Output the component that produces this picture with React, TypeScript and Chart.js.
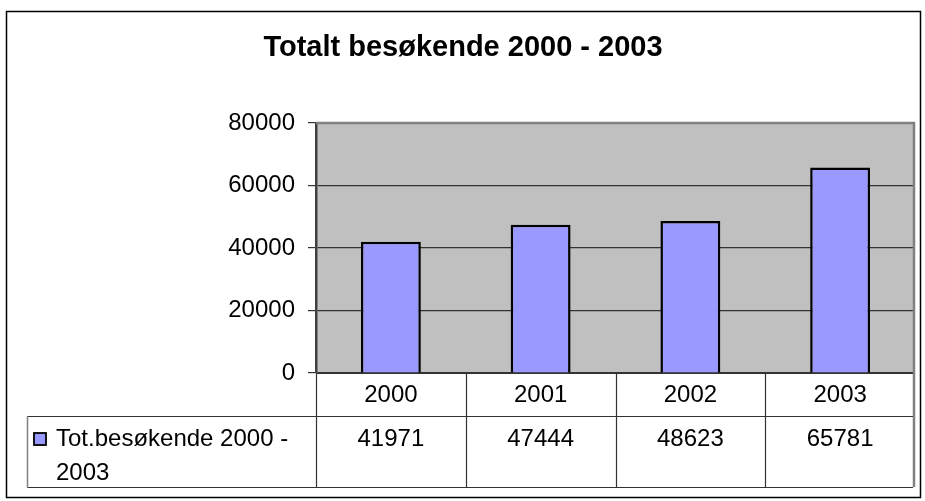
import React, { useEffect, useRef } from "react";
import { Chart, registerables } from "chart.js";

Chart.register(...registerables);

const TITLE = "Totalt besøkende 2000 - 2003";
const categories = ["2000", "2001", "2002", "2003"];
const seriesName = ["Tot.besøkende 2000 -", "2003"];
const values = [41971, 47444, 48623, 65781];
const yTicks = [0, 20000, 40000, 60000, 80000];

const FONT = "'Liberation Sans', Arial, sans-serif";
const BAR_COLOR = "#9999FF";
const PLOT_BG = "#C0C0C0";
const PLOT_BORDER = "#808080";
const LINE = "#333333";

const tablePlugin = {
  id: "excelTable",
  beforeDraw(chart: any) {
    const { ctx, chartArea } = chart;
    ctx.save();
    ctx.fillStyle = "#ffffff";
    ctx.fillRect(0, 0, chart.width, chart.height);
    ctx.fillStyle = PLOT_BG;
    ctx.fillRect(chartArea.left, chartArea.top, chartArea.right - chartArea.left, chartArea.bottom - chartArea.top);
    ctx.restore();
  },
  afterDraw(chart: any) {
    const { ctx, chartArea } = chart;
    const x = chart.scales.x;
    const left = chartArea.left;
    const right = chartArea.right;
    const top = chartArea.top;
    const bottom = chartArea.bottom;
    const catW = (right - left) / categories.length;
    const row1Bottom = bottom + 43;
    const row2Bottom = bottom + 114;
    const legendLeft = 27.5;

    ctx.save();
    // plot border top & right
    ctx.strokeStyle = PLOT_BORDER;
    ctx.lineWidth = 2.5;
    ctx.beginPath();
    ctx.moveTo(left, top);
    ctx.lineTo(right - 1, top);
    ctx.lineTo(right - 1, row2Bottom);
    ctx.stroke();

    // table lines
    ctx.strokeStyle = LINE;
    ctx.lineWidth = 1.2;
    ctx.beginPath();
    ctx.moveTo(left, bottom + 0.5);
    ctx.lineTo(right - 2, bottom + 0.5);
    ctx.moveTo(legendLeft, row1Bottom + 0.5);
    ctx.lineTo(right - 2, row1Bottom + 0.5);
    ctx.moveTo(legendLeft, row2Bottom + 0.5);
    ctx.lineTo(right - 2, row2Bottom + 0.5);
    for (let i = 0; i < categories.length; i++) {
      const bx = Math.round(x.getPixelForValue(i) - catW / 2) + 0.5;
      ctx.moveTo(bx, bottom);
      ctx.lineTo(bx, row2Bottom + 1);
    }
    ctx.stroke();
    ctx.strokeStyle = PLOT_BORDER;
    ctx.lineWidth = 1.5;
    ctx.beginPath();
    ctx.moveTo(legendLeft, row1Bottom);
    ctx.lineTo(legendLeft, row2Bottom + 1);
    ctx.stroke();

    // texts
    ctx.fillStyle = "#000000";
    ctx.font = `24px ${FONT}`;
    ctx.textAlign = "center";
    ctx.textBaseline = "alphabetic";
    categories.forEach((c, i) => {
      ctx.fillText(c, x.getPixelForValue(i), bottom + 29);
    });
    values.forEach((v, i) => {
      ctx.fillText(String(v), x.getPixelForValue(i), bottom + 72.5);
    });
    ctx.textAlign = "left";
    ctx.fillText(seriesName[0], 56, bottom + 72.5);
    ctx.fillText(seriesName[1], 56, bottom + 106.5);

    // legend marker
    ctx.fillStyle = BAR_COLOR;
    ctx.fillRect(34, bottom + 60, 12, 12);
    ctx.strokeStyle = "#000000";
    ctx.lineWidth = 1.8;
    ctx.strokeRect(34, bottom + 60, 12, 12);

    // title
    ctx.font = `bold 29px ${FONT}`;
    ctx.textAlign = "center";
    ctx.fillStyle = "#000000";
    ctx.fillText(TITLE, 463, 56);

    // outer border
    ctx.strokeStyle = "#000000";
    ctx.lineWidth = 1.5;
    ctx.strokeRect(6.5, 11.5, 914, 486);
    ctx.restore();
  },
};

export default function App() {
  const ref = useRef<HTMLCanvasElement | null>(null);

  useEffect(() => {
    if (!ref.current) return;
    const chart = new Chart(ref.current, {
      type: "bar",
      data: {
        labels: categories,
        datasets: [
          {
            label: seriesName.join(" "),
            data: values,
            backgroundColor: BAR_COLOR,
            borderColor: "#000000",
            borderWidth: 2.5,
            categoryPercentage: 1,
            barPercentage: 0.4,
          },
        ],
      },
      options: {
        animation: false,
        responsive: false,
        layout: { padding: { top: 123, bottom: 128, left: 0, right: 10 } },
        plugins: {
          legend: { display: false },
          title: { display: false },
          tooltip: { enabled: false },
        },
        scales: {
          x: { display: false },
          y: {
            min: 0,
            max: 80000,
            afterFit: (scale: any) => {
              scale.width = 316;
            },
            afterBuildTicks: (scale: any) => {
              scale.ticks = yTicks.map((v) => ({ value: v }));
            },
            ticks: {
              stepSize: 20000,
              padding: 13,
              color: "#000000",
              font: { family: FONT, size: 24 },
              callback: (v: any) => String(v),
            },
            grid: {
              tickLength: 8,
              tickColor: LINE,
              lineWidth: 1.2,
              color: (c: any) => (c.tick && c.tick.value === 80000 ? "rgba(0,0,0,0)" : LINE),
            },
            border: { display: true, color: "#404040", width: 2.5 },
          },
        },
      },
      plugins: [tablePlugin],
    });
    return () => chart.destroy();
  }, []);

  return (
    <div style={{ position: "absolute", left: 0, top: 0, width: 925, height: 501 }}>
      <canvas ref={ref} width={925} height={501} style={{ width: 925, height: 501 }} />
    </div>
  );
}
